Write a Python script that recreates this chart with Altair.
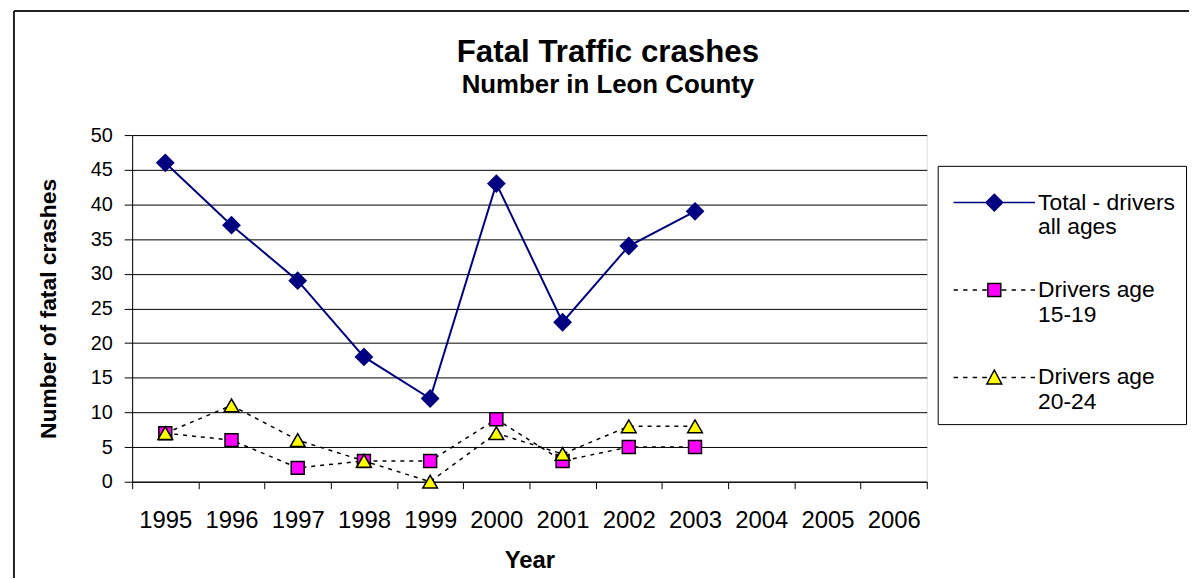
import altair as alt
import pandas as pd

# ---- data ----
years = [1995, 1996, 1997, 1998, 1999, 2000, 2001, 2002, 2003]
all_years = [1995, 1996, 1997, 1998, 1999, 2000, 2001, 2002, 2003, 2004, 2005, 2006]
total = [46, 37, 29, 18, 12, 43, 23, 34, 39]
age_15_19 = [7, 6, 2, 3, 3, 9, 3, 5, 5]
age_20_24 = [7, 11, 6, 3, 0, 7, 4, 8, 8]
series_names = ["Total - drivers all ages", "Drivers age 15-19", "Drivers age 20-24"]
legend_lines = [["Total - drivers", "all ages"], ["Drivers age", "15-19"], ["Drivers age", "20-24"]]
y_ticks = [0, 5, 10, 15, 20, 25, 30, 35, 40, 45, 50]

line_colors = ["#000080", "#000000", "#000000"]
fill_colors = ["#000080", "#FF00FF", "#FFFF00"]

rows = []
for name, vals in zip(series_names, [total, age_15_19, age_20_24]):
    for yr, v in zip(years, vals):
        rows.append({"year": yr, "value": v, "series": name})
df = pd.DataFrame(rows)

FONT = "Liberation Sans"

# ---- legend symbols (line + marker) as custom paths ----
SYM_SIZE = 2704            # sqrt = 52 -> 26 px per path unit
U = 26.0

def f(px):
    return round(px / U, 4)

def dashes():
    segs = [(-41, -36.6), (-31.4, -27), (-21.8, -17.4), (-12.2, -7.5)]
    p = ""
    for a, b in segs:
        p += f"M{f(a)},0L{f(b)},0M{f(-b)},0L{f(-a)},0"
    return p

path_total = f"M{f(-41)},0L{f(41)},0M{f(-8.4)},0L0,{f(-8.4)}L{f(8.4)},0L0,{f(8.4)}Z"
path_sq = dashes() + f"M{f(-6.5)},{f(-6.5)}L{f(6.5)},{f(-6.5)}L{f(6.5)},{f(6.5)}L{f(-6.5)},{f(6.5)}Z"
path_tri = dashes() + f"M0,{f(-7.5)}L{f(7.5)},{f(6.5)}L{f(-7.5)},{f(6.5)}Z"
legend_paths = [path_total, path_sq, path_tri]

label_expr = " : ".join(
    [f"datum.label == '{n}' ? {l!r}" for n, l in zip(series_names[:-1], legend_lines[:-1])]
) + f" : {legend_lines[-1]!r}"

x_enc = alt.X(
    "year:O",
    scale=alt.Scale(type="band", domain=all_years, paddingInner=0, paddingOuter=0),
    axis=alt.Axis(
        title="Year", labelAngle=0, tickBand="extent", ticks=True, tickSize=7,
        tickColor="black", domainColor="black", domainWidth=1, tickWidth=1,
        labelFontSize=24, labelFont=FONT, labelColor="black", labelPadding=20,
        titleFontSize=24, titleFont=FONT, titleFontWeight="bold", titleColor="black",
        titlePadding=16, grid=False,
    ),
)
y_enc = alt.Y(
    "value:Q",
    scale=alt.Scale(domain=[0, 50], nice=False),
    axis=alt.Axis(
        title="Number of fatal crashes", values=y_ticks, grid=True, gridColor="black",
        gridWidth=1, tickSize=8, tickColor="black", domainColor="black", domainWidth=1,
        labelFontSize=20, labelFont=FONT, labelColor="black", labelPadding=12,
        titleFontSize=23, titleFont=FONT, titleFontWeight="bold", titleColor="black",
        titlePadding=30,
    ),
)

base = alt.Chart(df)

line_total = base.transform_filter(alt.datum.series == series_names[0]).mark_line(
    color=line_colors[0], strokeWidth=2
).encode(x=x_enc, y=y_enc)

line_young = base.transform_filter(alt.datum.series != series_names[0]).mark_line(
    color="black", strokeWidth=1.5, strokeDash=[4, 5]
).encode(x=x_enc, y=y_enc, detail="series:N")

pt_total = base.transform_filter(alt.datum.series == series_names[0]).mark_point(
    shape="diamond", filled=True, fill=fill_colors[0], stroke=line_colors[0], size=260, opacity=1
).encode(x=x_enc, y=y_enc)

pt_15 = base.transform_filter(alt.datum.series == series_names[1]).mark_point(
    shape="square", filled=True, fill=fill_colors[1], stroke="black", strokeWidth=1.5, size=170, opacity=1
).encode(x=x_enc, y=y_enc)

pt_20 = base.transform_filter(alt.datum.series == series_names[2]).mark_point(
    shape="triangle-up", filled=True, fill=fill_colors[2], stroke="black", strokeWidth=1.5, size=220, opacity=1
).encode(x=x_enc, y=y_enc)

leg = alt.Legend(
    title=None, orient="none", legendX=811, legendY=31, direction="vertical",
    labelFontSize=23, labelFont=FONT, labelColor="black", labelExpr=label_expr,
    labelLimit=400, labelOffset=17, symbolOffset=20, symbolSize=SYM_SIZE,
    symbolStrokeWidth=1.5, padding=10, strokeColor="black", fillColor="white",
    rowPadding=24,
)

legend_layer = base.transform_filter("false").mark_point(
    filled=True, strokeWidth=1.5, size=SYM_SIZE, opacity=1
).encode(
    x=x_enc, y=y_enc,
    shape=alt.Shape("series:N", scale=alt.Scale(domain=series_names, range=legend_paths), legend=leg),
    fill=alt.Fill("series:N", scale=alt.Scale(domain=series_names, range=fill_colors), legend=leg),
    stroke=alt.Stroke("series:N", scale=alt.Scale(domain=series_names, range=line_colors), legend=leg),
)

frame_data = alt.Data(values=[{"k": 1}])
frame_left = alt.Chart(frame_data).mark_rule(color="#222", strokeWidth=2).encode(
    x=alt.value(-119), y=alt.value(-125), y2=alt.value(450)
)
frame_top = alt.Chart(frame_data).mark_rule(color="#222", strokeWidth=2).encode(
    x=alt.value(-119), x2=alt.value(1075), y=alt.value(-125)
)

chart = alt.layer(
    line_total, line_young, pt_total, pt_15, pt_20, legend_layer, frame_left, frame_top
).properties(
    width=800, height=349,
    padding={"left": 125, "top": 126, "right": 264, "bottom": 95},
    autosize=alt.AutoSizeParams(type="none"),
    title=alt.Title(
        "Fatal Traffic crashes", subtitle="Number in Leon County",
        font=FONT, subtitleFont=FONT, fontSize=31.5, subtitleFontSize=26,
        fontWeight="bold", subtitleFontWeight="bold", color="black", subtitleColor="black",
        anchor="middle", frame="group", dx=79, offset=-89, subtitlePadding=4,
    ),
).configure_view(
    fill="#C0C0C0", stroke="#808080", strokeWidth=2
).configure(background="white")

chart.save("out.html", embed_options={"renderer": "svg", "actions": False})
